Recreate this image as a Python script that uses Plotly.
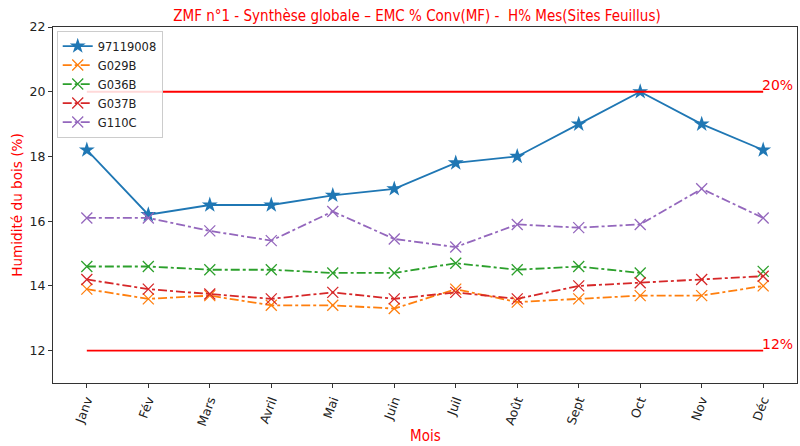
import plotly.graph_objects as go

months = ["Janv", "Fév", "Mars", "Avril", "Mai", "Juin", "Juil", "Août", "Sept", "Oct", "Nov", "Déc"]
s_97119008 = [18.2, 16.2, 16.5, 16.5, 16.8, 17.0, 17.8, 18.0, 19.0, 20.0, 19.0, 18.2]
s_G029B = [13.9, 13.6, 13.7, 13.4, 13.4, 13.3, 13.9, 13.5, 13.6, 13.7, 13.7, 14.0]
s_G036B = [14.6, 14.6, 14.5, 14.5, 14.4, 14.4, 14.7, 14.5, 14.6, 14.4, None, 14.45]
s_G037B = [14.2, 13.9, 13.75, 13.6, 13.8, 13.6, 13.8, 13.6, 14.0, 14.1, 14.2, 14.3]
s_G110C = [16.1, 16.1, 15.7, 15.4, 16.3, 15.45, 15.2, 15.9, 15.8, 15.9, 17.0, 16.1]
thresholds = [20, 12]
threshold_labels = ["20%", "12%"]

series = [
    ("97119008", s_97119008, "#1f77b4", "solid", "star"),
    ("G029B", s_G029B, "#ff7f0e", "dashdot", "x-thin"),
    ("G036B", s_G036B, "#2ca02c", "dashdot", "x-thin"),
    ("G037B", s_G037B, "#d62728", "dashdot", "x-thin"),
    ("G110C", s_G110C, "#9467bd", "dashdot", "x-thin"),
]

NARROW = "Liberation Sans Narrow, DejaVu Sans Condensed, sans-serif"
L, R, T, B = 53, 3, 27, 63
W, H = 800, 446
plot_h = H - T - B

fig = go.Figure()
for name, vals, col, dash, sym in series:
    if sym == "star":
        marker = dict(symbol="star", size=12, color=col, line=dict(width=0))
    else:
        marker = dict(symbol="x-thin", size=11, color=col, line=dict(width=1.3, color=col))
    fig.add_trace(go.Scatter(x=months, y=vals, name=name, mode="lines+markers",
                             line=dict(color=col, width=1.8, dash=dash),
                             marker=marker, connectgaps=False))

for t, lab in zip(thresholds, threshold_labels):
    fig.add_trace(go.Scatter(x=[months[0], months[-1]], y=[t, t], mode="lines",
                             line=dict(color="#ff0000", width=1.8), showlegend=False,
                             hoverinfo="skip"))
    fig.add_annotation(x=months[-1], y=t, text=lab, showarrow=False,
                       xanchor="left", yanchor="bottom", xshift=-3, yshift=-3,
                       font=dict(color="#ff0000", size=14, family="DejaVu Sans"))

fig.add_annotation(x=(425 - L) / (W - L - R), y=(H - B - 436) / plot_h,
                   xref="paper", yref="paper", xanchor="center", yanchor="middle",
                   text="Mois", showarrow=False,
                   font=dict(family=NARROW, size=15, color="#ff0000"))

axis_common = dict(showline=True, linecolor="#333333", linewidth=1, mirror=True,
                   ticks="outside", ticklen=4, tickcolor="#333333", showgrid=False,
                   zeroline=False, automargin=False,
                   tickfont=dict(family="DejaVu Sans", size=12.5, color="#222222"))

fig.update_layout(
    width=W, height=H,
    margin=dict(l=L, r=R, t=T, b=B),
    plot_bgcolor="white", paper_bgcolor="white",
    title=dict(text="ZMF n°1 - Synthèse globale – EMC % Conv(MF) -  H% Mes(Sites Feuillus)",
               x=417 / W, xanchor="center", y=1 - 16 / H, yanchor="middle",
               font=dict(family=NARROW, size=15, color="#ff0000")),
    xaxis=dict(range=[-0.55, 11.55], tickangle=-70, **axis_common),
    yaxis=dict(range=[11, 22], tickvals=[12, 14, 16, 18, 20, 22],
               title=dict(text="Humidité du bois (%)", standoff=3,
                          font=dict(family="DejaVu Sans", size=13.6, color="#ff0000")),
               **axis_common),
    legend=dict(x=0.005, y=0.99, xanchor="left", yanchor="top",
                bgcolor="rgba(255,255,255,0.85)", bordercolor="#cccccc", borderwidth=1,
                font=dict(family="DejaVu Sans", size=11.5, color="#222222"),
                tracegroupgap=0, itemwidth=30),
    showlegend=True,
)

fig.write_html("out.html", config={"displayModeBar": False},
               post_script="document.body.style.margin='0';")
